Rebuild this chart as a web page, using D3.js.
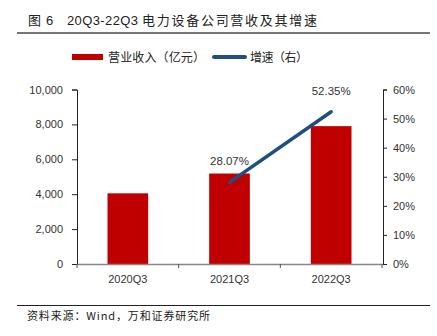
<!DOCTYPE html>
<html><head><meta charset="utf-8">
<script src="https://cdn.jsdelivr.net/npm/d3@7/dist/d3.min.js"></script>
<style>body{margin:0;background:#fff}svg{display:block}</style>
</head><body>
<script>
const categories = ["2020Q3", "2021Q3", "2022Q3"];
const revenue = [4050, 5185, 7900];
const growth = [null, 0.2807, 0.5235];
const growthLabels = [null, "28.07%", "52.35%"];
const leftTicks = [0, 2000, 4000, 6000, 8000, 10000];
const rightTicks = [0, 0.1, 0.2, 0.3, 0.4, 0.5, 0.6];
const titleParts = ["图", "6", "20Q3-22Q3", "电力设备公司营收及其增速"];
const source = "资料来源：Wind，万和证券研究所";
const legendNames = ["营业收入（亿元）", "增速（右）"];

const W = 437, H = 336;
const svg = d3.select("body").append("svg").attr("width", W).attr("height", H);
const cjk = "'Noto Sans CJK SC', sans-serif";
const latin = "'Liberation Sans', Arial, sans-serif";

// Title
const tpos = [{x: 28, len: 12, f: cjk}, {x: 46, len: 7, f: latin}, {x: 67, len: 71, f: latin}, {x: 142, len: 175, f: cjk}];
titleParts.forEach((t, i) => {
  svg.append("text").attr("x", tpos[i].x).attr("y", 25).attr("font-family", tpos[i].f).attr("font-size", 13)
    .attr("fill", "#222").attr("textLength", tpos[i].len).attr("lengthAdjust", "spacing").text(t);
});
svg.append("line").attr("x1", 17).attr("x2", 430).attr("y1", 33).attr("y2", 33)
  .attr("stroke", "#777").attr("stroke-width", 2);

// Scales
const x = d3.scaleBand().domain(categories).range([77, 382]).paddingInner(0.6).paddingOuter(0.3);
const xb = d3.scaleBand().domain(categories).range([77, 382]);
const yL = d3.scaleLinear().domain([0, 10000]).range([264, 89.5]);
const yR = d3.scaleLinear().domain([0, 0.6]).range([264, 89.5]);

// Bars
svg.selectAll("rect.bar").data(revenue).enter().append("rect")
  .attr("x", (d, i) => x(categories[i])).attr("width", x.bandwidth())
  .attr("y", d => yL(d)).attr("height", d => yL(0) - yL(d)).attr("fill", "#c00000");

// Left axis
const gL = svg.append("g").attr("transform", "translate(77,0)")
  .call(d3.axisLeft(yL).tickValues(leftTicks).tickSize(5).tickPadding(9).tickFormat(d3.format(",")));
gL.select(".domain").attr("stroke", "#222");
gL.selectAll(".tick line").attr("stroke", "#222");
gL.selectAll("text").attr("font-family", latin).attr("font-size", 11).attr("fill", "#333");

// Right axis
const gR = svg.append("g").attr("transform", "translate(383,0)")
  .call(d3.axisRight(yR).tickValues(rightTicks).tickSize(4).tickPadding(6).tickFormat(d3.format(".0%")));
gR.select(".domain").attr("stroke", "#222");
gR.selectAll(".tick line").attr("stroke", "#222");
gR.selectAll("text").attr("font-family", latin).attr("font-size", 11).attr("fill", "#333");

// Bottom axis
const gB = svg.append("g").attr("transform", "translate(0,264)");
gB.append("line").attr("x1", 77).attr("x2", 383).attr("y1", 0.5).attr("y2", 0.5).attr("stroke", "#888").attr("stroke-width", 1.5);
const bounds = [xb(categories[0]), ...categories.map(c => xb(c) + xb.bandwidth())];
gB.selectAll("line.tk").data(bounds).enter().append("line").attr("class", "tk")
  .attr("x1", d => d).attr("x2", d => d).attr("y1", 0).attr("y2", 4).attr("stroke", "#555");
gB.selectAll("text").data(categories).enter().append("text")
  .attr("x", d => x(d) + x.bandwidth() / 2).attr("y", 19).attr("text-anchor", "middle")
  .attr("font-family", latin).attr("font-size", 11).attr("fill", "#333").text(d => d);

// Growth line
const pts = categories.map((c, i) => ({c, v: growth[i], l: growthLabels[i]})).filter(d => d.v != null);
const line = d3.line().x(d => x(d.c) + x.bandwidth() / 2).y(d => yR(d.v));
svg.append("path").datum(pts).attr("d", line).attr("fill", "none")
  .attr("stroke", "#1f4e80").attr("stroke-width", 3.5).attr("stroke-linecap", "round");
svg.selectAll("text.lbl").data(pts).enter().append("text").attr("class", "lbl")
  .attr("x", d => x(d.c) + x.bandwidth() / 2).attr("y", d => yR(d.v) - 17)
  .attr("text-anchor", "middle").attr("font-family", latin).attr("font-size", 11.5).attr("fill", "#333")
  .text(d => d.l);

// Legend
svg.append("rect").attr("x", 72).attr("y", 54).attr("width", 31).attr("height", 6).attr("fill", "#c00000");
svg.append("text").attr("x", 108).attr("y", 61.5).attr("font-family", cjk).attr("font-size", 12).attr("fill", "#222")
  .attr("textLength", 97).attr("lengthAdjust", "spacing").text(legendNames[0]);
svg.append("line").attr("x1", 214).attr("x2", 245).attr("y1", 57).attr("y2", 57)
  .attr("stroke", "#1f4e80").attr("stroke-width", 4).attr("stroke-linecap", "round");
svg.append("text").attr("x", 250).attr("y", 61.5).attr("font-family", cjk).attr("font-size", 12).attr("fill", "#222")
  .attr("textLength", 58).attr("lengthAdjust", "spacing").text(legendNames[1]);

// Source
svg.append("line").attr("x1", 17).attr("x2", 430).attr("y1", 305.5).attr("y2", 305.5).attr("stroke", "#222").attr("stroke-width", 1);
svg.append("text").attr("x", 27).attr("y", 320).attr("font-family", cjk).attr("font-size", 11).attr("fill", "#222")
  .attr("textLength", 183).attr("lengthAdjust", "spacing").text(source);
</script>
</body></html>
